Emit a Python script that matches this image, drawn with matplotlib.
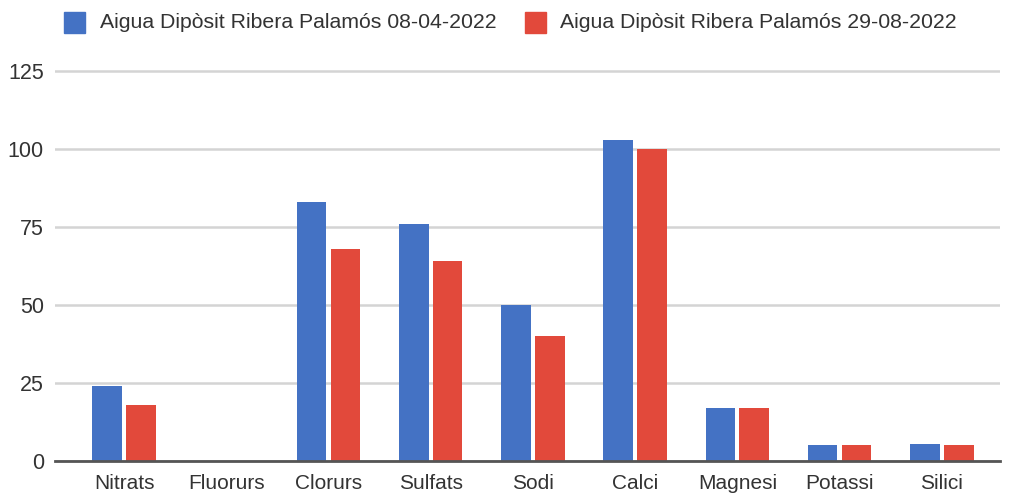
import matplotlib
matplotlib.use("Agg")
import matplotlib.pyplot as plt
from matplotlib.patches import Rectangle
import numpy as np

categories = ["Nitrats", "Fluorurs", "Clorurs", "Sulfats", "Sodi",
              "Calci", "Magnesi", "Potassi", "Silici"]
series_names = ["Aigua Dipòsit Ribera Palamós 08-04-2022",
                "Aigua Dipòsit Ribera Palamós 29-08-2022"]
values_april = [24, 0, 83, 76, 50, 103, 17, 5, 5.5]
values_august = [18, 0, 68, 64, 40, 100, 17, 5, 5]
y_ticks = [0, 25, 50, 75, 100, 125]

BLUE = "#4472c4"
RED = "#e2493b"
TEXT = "#333333"

plt.rcParams["font.family"] = ["Liberation Sans", "DejaVu Sans"]

W, H = 1009, 494
fig = plt.figure(figsize=(W / 100, H / 100), dpi=100)
ax = fig.add_axes([55 / W, 33 / H, 945 / W, 393 / H])

x = np.arange(len(categories))
bw = 0.29
off = 0.166
ax.bar(x - off, values_april, width=bw, color=BLUE, zorder=3)
ax.bar(x + off, values_august, width=bw, color=RED, zorder=3)

ax.set_xlim(-0.676, len(categories) - 0.43)
ax.set_ylim(0, 126)
ax.set_yticks(y_ticks)
ax.set_xticks(x)
ax.set_xticklabels(categories)

ax.grid(axis="y", color="#d4d4d4", linewidth=1.8, zorder=0)
for s in ["top", "right", "left"]:
    ax.spines[s].set_visible(False)
ax.spines["bottom"].set_color("#555555")
ax.spines["bottom"].set_linewidth(2)
ax.spines["bottom"].set_zorder(4)
ax.tick_params(axis="both", length=0, colors=TEXT)
ax.tick_params(axis="x", labelsize=15, pad=9)
ax.tick_params(axis="y", labelsize=15.5, pad=8)

# legend drawn as swatch + label pairs along the top
legend_items = [(series_names[0], BLUE, 64, 100), (series_names[1], RED, 525, 560)]
for name, col, sx, tx in legend_items:
    fig.patches.append(Rectangle((sx / W, 1 - 33 / H), 21 / W, 21 / H,
                                 transform=fig.transFigure, color=col))
    fig.text(tx / W, 1 - 22 / H, name, fontsize=15.3, color=TEXT,
             va="center", ha="left")

fig.savefig("out.png", dpi=100, facecolor="white")
